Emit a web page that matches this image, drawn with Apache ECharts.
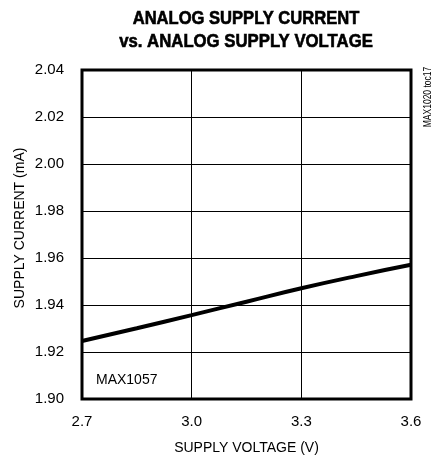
<!DOCTYPE html>
<html>
<head>
<meta charset="utf-8">
<script src="https://cdn.jsdelivr.net/npm/echarts@6/dist/echarts.min.js"></script>
<style>
html, body { margin: 0; padding: 0; background: #fff; }
#chart { width: 436px; height: 456px; }
</style>
</head>
<body>
<div id="chart"></div>
<script>
var voltage = [2.7, 2.85, 3.0, 3.15, 3.3, 3.45, 3.6];
var current = [1.9247, 1.9301, 1.9357, 1.9414, 1.9471, 1.9523, 1.9571];
var titleLines = ['ANALOG SUPPLY CURRENT', 'vs. ANALOG SUPPLY VOLTAGE'];

var FONT = '"Liberation Sans", Arial, sans-serif';

var chart = echarts.init(document.getElementById('chart'));

var option = {
	animation: false,
	grid: {
		left: 82,
		right: 25,
		top: 70,
		bottom: 57,
		outerBoundsMode: 'none',
		containLabel: false,
		show: true,
		borderColor: '#000',
		borderWidth: 3,
		backgroundColor: '#fff'
	},
	xAxis: {
		type: 'value',
		min: 2.7,
		max: 3.6,
		interval: 0.3,
		name: 'SUPPLY VOLTAGE (V)',
		nameLocation: 'middle',
		nameGap: 42,
		nameTextStyle: { fontFamily: FONT, fontSize: 14, color: '#000' },
		axisLine: { show: false },
		axisTick: { show: false },
		axisLabel: {
			margin: 15,
			fontFamily: FONT,
			fontSize: 15,
			color: '#000',
			formatter: function(v) { return v.toFixed(1); }
		},
		splitLine: { show: true, lineStyle: { color: '#000', width: 1 } }
	},
	yAxis: {
		type: 'value',
		min: 1.90,
		max: 2.04,
		interval: 0.02,
		axisLine: { show: false },
		axisTick: { show: false },
		axisLabel: {
			margin: 18,
			fontFamily: FONT,
			fontSize: 15,
			color: '#000',
			formatter: function(v) { return v.toFixed(2); }
		},
		splitLine: { show: true, lineStyle: { color: '#000', width: 1 } }
	},
	graphic: [{
		type: 'text',
		x: 246,
		y: 19,
		scaleX: 0.92,
		style: {
			text: titleLines[0],
			font: 'bold 18px ' + FONT,
			fill: '#000',
			stroke: '#000',
			lineWidth: 0.6,
			align: 'center',
			verticalAlign: 'middle'
		}
	}, {
		type: 'text',
		x: 246,
		y: 42,
		scaleX: 0.93,
		style: {
			text: titleLines[1],
			font: 'bold 18px ' + FONT,
			fill: '#000',
			stroke: '#000',
			lineWidth: 0.6,
			align: 'center',
			verticalAlign: 'middle'
		}
	}, {
		type: 'text',
		x: 20,
		y: 228,
		rotation: Math.PI / 2,
		style: {
			text: 'SUPPLY CURRENT (mA)',
			font: '14px ' + FONT,
			fill: '#000',
			align: 'center',
			verticalAlign: 'middle'
		}
	}, {
		type: 'text',
		left: 96,
		top: 373,
		style: { text: 'MAX1057', font: '14px ' + FONT, fill: '#000' }
	}, {
		type: 'text',
		x: 428,
		y: 97,
		rotation: Math.PI / 2,
		scaleX: 0.85,
		style: {
			text: 'MAX1020 toc17',
			font: '10px ' + FONT,
			fill: '#000',
			align: 'center',
			verticalAlign: 'middle'
		}
	}],
	series: [{
		type: 'line',
		smooth: true,
		symbol: 'none',
		data: voltage.map(function(v, i) { return [v, current[i]]; }),
		lineStyle: { color: '#000', width: 4 }
	}]
};

chart.setOption(option);
</script>
</body>
</html>
